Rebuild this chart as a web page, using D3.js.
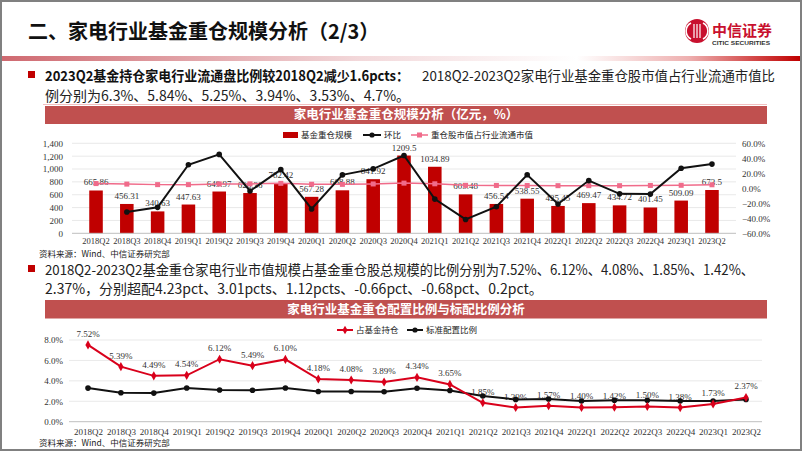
<!DOCTYPE html>
<html><head><meta charset="utf-8">
<script src="https://cdn.jsdelivr.net/npm/d3@7"></script>
<style>html,body{margin:0;padding:0;background:#fff;} svg{display:block;}</style>
</head><body><svg id="c" width="802" height="451"></svg>
<script>
// ---------- data ----------
const quarters = ['2018Q2','2018Q3','2018Q4','2019Q1','2019Q2','2019Q3','2019Q4','2020Q1','2020Q2','2020Q3','2020Q4','2021Q1','2021Q2','2021Q3','2021Q4','2022Q1','2022Q2','2022Q3','2022Q4','2023Q1','2023Q2'];
const holdingScale = [665.86,456.31,340.63,447.63,649.97,626.36,782.42,567.28,668.88,841.92,1209.5,1034.89,605.48,456.54,538.55,425.45,469.47,434.72,401.45,509.09,673.5];
const qoqChange = [null,-31.5,-25.4,31.4,45.2,-3.6,24.9,-27.5,17.9,25.9,43.7,-14.4,-41.5,-24.6,18.0,-21.0,10.3,-7.4,-7.7,26.8,32.3];
const floatShare = [6.3,5.6,4.9,4.9,5.84,5.9,6.6,5.4,5.25,5.8,6.9,6.0,3.94,3.8,3.7,3.5,3.53,3.5,3.8,4.0,4.7];
const fundWeight = [7.52,5.39,4.49,4.54,6.12,5.49,6.10,4.18,4.08,3.89,4.34,3.65,1.85,1.39,1.57,1.40,1.42,1.50,1.38,1.73,2.37];
const benchmarkWeight = [3.29,2.84,2.80,3.30,3.11,3.08,3.30,2.96,2.96,2.93,3.27,3.05,2.51,2.18,2.22,2.02,2.10,2.10,2.02,2.02,2.17];
const leftTicks1 = [0,200,400,600,800,1000,1200,1400];
const rightTicks1 = [-60,-40,-20,0,20,40,60];
const ticks2 = [0,2,4,6,8];
const legend1 = ['基金重仓规模','环比','重仓股市值占行业流通市值'];
const legend2 = ['占基金持仓','标准配置比例'];

// ---------- setup ----------
const svg = d3.select('#c');
const CJK = '"Noto Sans CJK SC","Noto Sans",sans-serif';
const NARROW = '"Liberation Sans Narrow","Noto Sans CJK SC",sans-serif';
const SERIF = '"Liberation Serif","DejaVu Serif",serif';
const RED = '#c00000';

svg.append('rect').attr('width',802).attr('height',451).attr('fill','#fff');
const defs = svg.append('defs');
const grad = defs.append('linearGradient').attr('id','band');
[[0,'#cf6970'],[0.45,'#f3d9db'],[0.72,'#ffffff'],[0.86,'#eeb0b0'],[1,'#c00000']].forEach(s=>{
  grad.append('stop').attr('offset',s[0]).attr('stop-color',s[1]);
});

// frame
svg.append('rect').attr('x',1).attr('y',1).attr('width',800).attr('height',449)
  .attr('fill','none').attr('stroke','#808080').attr('stroke-width',2);

// title
svg.append('text').attr('x',28).attr('y',39).attr('font-family',CJK).attr('font-size',20)
  .attr('font-weight','bold').attr('fill','#111').text('二、家电行业基金重仓规模分析（2/3）');
svg.append('rect').attr('x',2).attr('y',56).attr('width',798).attr('height',5).attr('fill','url(#band)');

// logo
const logo = svg.append('g');
logo.append('circle').attr('cx',697).attr('cy',31).attr('r',12).attr('fill','#c8102e');
logo.append('path').attr('d','M691,23 A9,9 0 0 0 691,39').attr('fill','none').attr('stroke','#fff').attr('stroke-width',1.6);
logo.append('path').attr('d','M703,23 A9,9 0 0 1 703,39').attr('fill','none').attr('stroke','#fff').attr('stroke-width',1.6);
[694,697,700].forEach(x=>logo.append('line').attr('x1',x).attr('x2',x).attr('y1',24).attr('y2',38).attr('stroke','#fff').attr('stroke-width',1.2));
logo.append('text').attr('x',712).attr('y',36).attr('font-family',CJK).attr('font-size',15)
  .attr('font-weight','bold').attr('fill','#c8102e').text('中信证券');
logo.append('text').attr('x',712).attr('y',45).attr('font-family','"Liberation Sans",sans-serif').attr('font-size',6.2)
  .attr('font-weight','bold').attr('fill','#333').attr('textLength',58).attr('lengthAdjust','spacingAndGlyphs').text('CITIC SECURITIES');

// ---------- text block 1 ----------
svg.append('rect').attr('x',28).attr('y',71).attr('width',7).attr('height',7).attr('fill',RED);
svg.append('text').attr('x',45).attr('y',81).attr('font-family',NARROW).attr('font-size',14).attr('font-weight','bold')
  .attr('fill','#111').attr('textLength',364).attr('lengthAdjust','spacingAndGlyphs')
  .text('2023Q2基金持仓家电行业流通盘比例较2018Q2减少1.6pcts：');
svg.append('text').attr('x',422).attr('y',81).attr('font-family',NARROW).attr('font-size',14)
  .attr('fill','#222').attr('textLength',353).attr('lengthAdjust','spacingAndGlyphs')
  .text('2018Q2-2023Q2家电行业基金重仓股市值占行业流通市值比');
svg.append('text').attr('x',45).attr('y',100.5).attr('font-family',NARROW).attr('font-size',14)
  .attr('fill','#222').text('例分别为6.3%、5.84%、5.25%、3.94%、3.53%、4.7%。');
svg.append('line').attr('x1',43).attr('x2',767).attr('y1',104.5).attr('y2',104.5).attr('stroke','#f2c0c0').attr('stroke-width',1);

// ---------- helpers ----------
function titleBar(y, h, label){
  svg.append('rect').attr('x',45).attr('y',y).attr('width',722).attr('height',h).attr('fill','#c0504f');
  svg.append('text').attr('x',406).attr('y',y+h/2+4.3).attr('text-anchor','middle').attr('font-family',CJK)
    .attr('font-size',12.5).attr('font-weight','bold').attr('fill','#fff').text(label);
}
function source(y){
  svg.append('text').attr('x',39).attr('y',y).attr('font-family',CJK).attr('font-size',8.5)
    .attr('fill','#222').text('资料来源：Wind、中信证券研究部');
}

// ---------- chart 1 ----------
titleBar(106, 18, '家电行业基金重仓规模分析（亿元，%）');
{
  const ly = 135;
  const lg = svg.append('g').attr('font-family',CJK).attr('font-size',8.5).attr('fill','#222');
  lg.append('rect').attr('x',283).attr('y',ly-3).attr('width',15).attr('height',6).attr('fill',RED);
  lg.append('text').attr('x',301).attr('y',ly+3).text(legend1[0]);
  lg.append('line').attr('x1',363).attr('x2',381).attr('y1',ly).attr('y2',ly).attr('stroke','#111').attr('stroke-width',2);
  lg.append('circle').attr('cx',372).attr('cy',ly).attr('r',2.6).attr('fill','#111');
  lg.append('text').attr('x',384).attr('y',ly+3).text(legend1[1]);
  lg.append('line').attr('x1',411).attr('x2',428).attr('y1',ly).attr('y2',ly).attr('stroke','#f06b8a').attr('stroke-width',1.5);
  lg.append('rect').attr('x',417).attr('y',ly-2.5).attr('width',5).attr('height',5).attr('fill','#f06b8a');
  lg.append('text').attr('x',431).attr('y',ly+3).text(legend1[2]);
}
const x1 = d3.scaleBand().domain(quarters).range([72,736]).padding(0.56);
const yL = d3.scaleLinear().domain([0,1400]).range([233.3,143.3]);
const yR = d3.scaleLinear().domain([-60,60]).range([233.3,143.3]);
const c1 = svg.append('g');
c1.append('g').selectAll('line').data(leftTicks1.slice(1)).join('line')
  .attr('x1',72).attr('x2',736).attr('y1',d=>yL(d)).attr('y2',d=>yL(d)).attr('stroke','#e3e3e3').attr('stroke-width',0.8);
const axL = c1.append('g').attr('transform','translate(66,0)').call(d3.axisLeft(yL).tickValues(leftTicks1).tickFormat(d3.format(',')).tickSize(0));
axL.select('.domain').remove();
axL.selectAll('text').attr('font-family',SERIF).attr('font-size',9).attr('fill','#333');
const axR = c1.append('g').attr('transform','translate(739,0)').call(d3.axisRight(yR).tickValues(rightTicks1).tickFormat(d=>d3.format('.1f')(d)+'%').tickSize(0));
axR.select('.domain').remove();
axR.selectAll('text').attr('font-family',SERIF).attr('font-size',9).attr('fill','#333');
c1.selectAll('rect.bar').data(holdingScale).join('rect').attr('class','bar')
  .attr('x',(d,i)=>x1(quarters[i])).attr('width',x1.bandwidth())
  .attr('y',d=>yL(d)).attr('height',d=>yL(0)-yL(d)).attr('fill',RED);
c1.append('line').attr('x1',72).attr('x2',736).attr('y1',yL(0)).attr('y2',yL(0)).attr('stroke','#bfbfbf').attr('stroke-width',1);
const axB1 = c1.append('g').attr('transform',`translate(0,${yL(0)})`).call(d3.axisBottom(x1).tickSize(0).tickPadding(5));
axB1.select('.domain').remove();
axB1.selectAll('text').attr('font-family',SERIF).attr('font-size',8.5).attr('fill','#333');
c1.selectAll('text.vl').data(holdingScale).join('text').attr('class','vl')
  .attr('x',(d,i)=>x1(quarters[i])+x1.bandwidth()/2).attr('y',d=>yL(d)-5)
  .attr('text-anchor','middle').attr('font-family',SERIF).attr('font-size',9).attr('fill','#333').text(d=>String(d));
const cx1 = i=>x1(quarters[i])+x1.bandwidth()/2;
const pinkLine = d3.line().x((d,i)=>cx1(i)).y(d=>yR(d));
c1.append('path').datum(floatShare).attr('d',pinkLine).attr('fill','none').attr('stroke','#f06b8a').attr('stroke-width',1.5);
c1.selectAll('rect.pm').data(floatShare).join('rect').attr('class','pm')
  .attr('x',(d,i)=>cx1(i)-2.5).attr('y',d=>yR(d)-2.5).attr('width',5).attr('height',5).attr('fill','#f06b8a');
const qoqPts = qoqChange.map((v,i)=>({v,i})).filter(d=>d.v!==null);
const blackLine = d3.line().x(d=>cx1(d.i)).y(d=>yR(d.v));
c1.append('path').datum(qoqPts).attr('d',blackLine).attr('fill','none').attr('stroke','#111').attr('stroke-width',2);
c1.selectAll('circle.qm').data(qoqPts).join('circle').attr('class','qm')
  .attr('cx',d=>cx1(d.i)).attr('cy',d=>yR(d.v)).attr('r',2.8).attr('fill','#111');
source(257);

// ---------- text block 2 ----------
svg.append('rect').attr('x',28).attr('y',265).attr('width',7).attr('height',7).attr('fill',RED);
svg.append('text').attr('x',45).attr('y',275).attr('font-family',NARROW).attr('font-size',14)
  .attr('fill','#222').attr('textLength',709).attr('lengthAdjust','spacingAndGlyphs')
  .text('2018Q2-2023Q2基金重仓家电行业市值规模占基金重仓股总规模的比例分别为7.52%、6.12%、4.08%、1.85%、1.42%、');
svg.append('text').attr('x',45).attr('y',294).attr('font-family',NARROW).attr('font-size',14)
  .attr('fill','#222').text('2.37%，分别超配4.23pct、3.01pcts、1.12pcts、-0.66pct、-0.68pct、0.2pct。');

// ---------- chart 2 ----------
titleBar(300, 18.5, '家电行业基金重仓配置比例与标配比例分析');
{
  const ly = 330;
  const lg = svg.append('g').attr('font-family',CJK).attr('font-size',8.5).attr('fill','#222');
  lg.append('line').attr('x1',337).attr('x2',353).attr('y1',ly).attr('y2',ly).attr('stroke','#d9001b').attr('stroke-width',2);
  lg.append('path').attr('d',d3.symbol(d3.symbolDiamond,22)()).attr('transform',`translate(345,${ly})`).attr('fill','#d9001b');
  lg.append('text').attr('x',356).attr('y',ly+3).text(legend2[0]);
  lg.append('line').attr('x1',407).attr('x2',423).attr('y1',ly).attr('y2',ly).attr('stroke','#111').attr('stroke-width',2);
  lg.append('circle').attr('cx',415).attr('cy',ly).attr('r',2.6).attr('fill','#111');
  lg.append('text').attr('x',426).attr('y',ly+3).text(legend2[1]);
}
const x2 = d3.scalePoint().domain(quarters).range([88,746]);
const y2 = d3.scaleLinear().domain([0,8]).range([421.7,340]);
const c2 = svg.append('g');
c2.selectAll('line.g2').data(ticks2.slice(1)).join('line').attr('class','g2')
  .attr('x1',69).attr('x2',762).attr('y1',d=>y2(d)).attr('y2',d=>y2(d)).attr('stroke','#e3e3e3').attr('stroke-width',0.8);
c2.append('line').attr('x1',69).attr('x2',762).attr('y1',y2(0)).attr('y2',y2(0)).attr('stroke','#bfbfbf').attr('stroke-width',1);
const axL2 = c2.append('g').attr('transform','translate(66,0)').call(d3.axisLeft(y2).tickValues(ticks2).tickFormat(d=>d3.format('.1f')(d)+'%').tickSize(0));
axL2.select('.domain').remove();
axL2.selectAll('text').attr('font-family',SERIF).attr('font-size',9).attr('fill','#333');
const axB2 = c2.append('g').attr('transform',`translate(0,${y2(0)})`).call(d3.axisBottom(x2).tickSize(0).tickPadding(7));
axB2.select('.domain').remove();
axB2.selectAll('text').attr('font-family',SERIF).attr('font-size',9).attr('fill','#333');
c2.selectAll('text.fl').data(fundWeight).join('text').attr('class','fl')
  .attr('x',(d,i)=>x2(quarters[i])).attr('y',d=>y2(d)-8)
  .attr('text-anchor','middle').attr('font-family',SERIF).attr('font-size',9).attr('fill','#333').text(d=>d.toFixed(2)+'%');
const ln2 = d3.line().x((d,i)=>x2(quarters[i])).y(d=>y2(d));
c2.append('path').datum(benchmarkWeight).attr('d',ln2).attr('fill','none').attr('stroke','#111').attr('stroke-width',2);
c2.selectAll('circle.bm').data(benchmarkWeight).join('circle').attr('class','bm')
  .attr('cx',(d,i)=>x2(quarters[i])).attr('cy',d=>y2(d)).attr('r',2.8).attr('fill','#111');
c2.append('path').datum(fundWeight).attr('d',ln2).attr('fill','none').attr('stroke','#d9001b').attr('stroke-width',2);
c2.selectAll('path.fm').data(fundWeight).join('path').attr('class','fm')
  .attr('d',d3.symbol(d3.symbolDiamond,24)()).attr('transform',(d,i)=>`translate(${x2(quarters[i])},${y2(d)})`).attr('fill','#d9001b');
source(446);
</script></body></html>
